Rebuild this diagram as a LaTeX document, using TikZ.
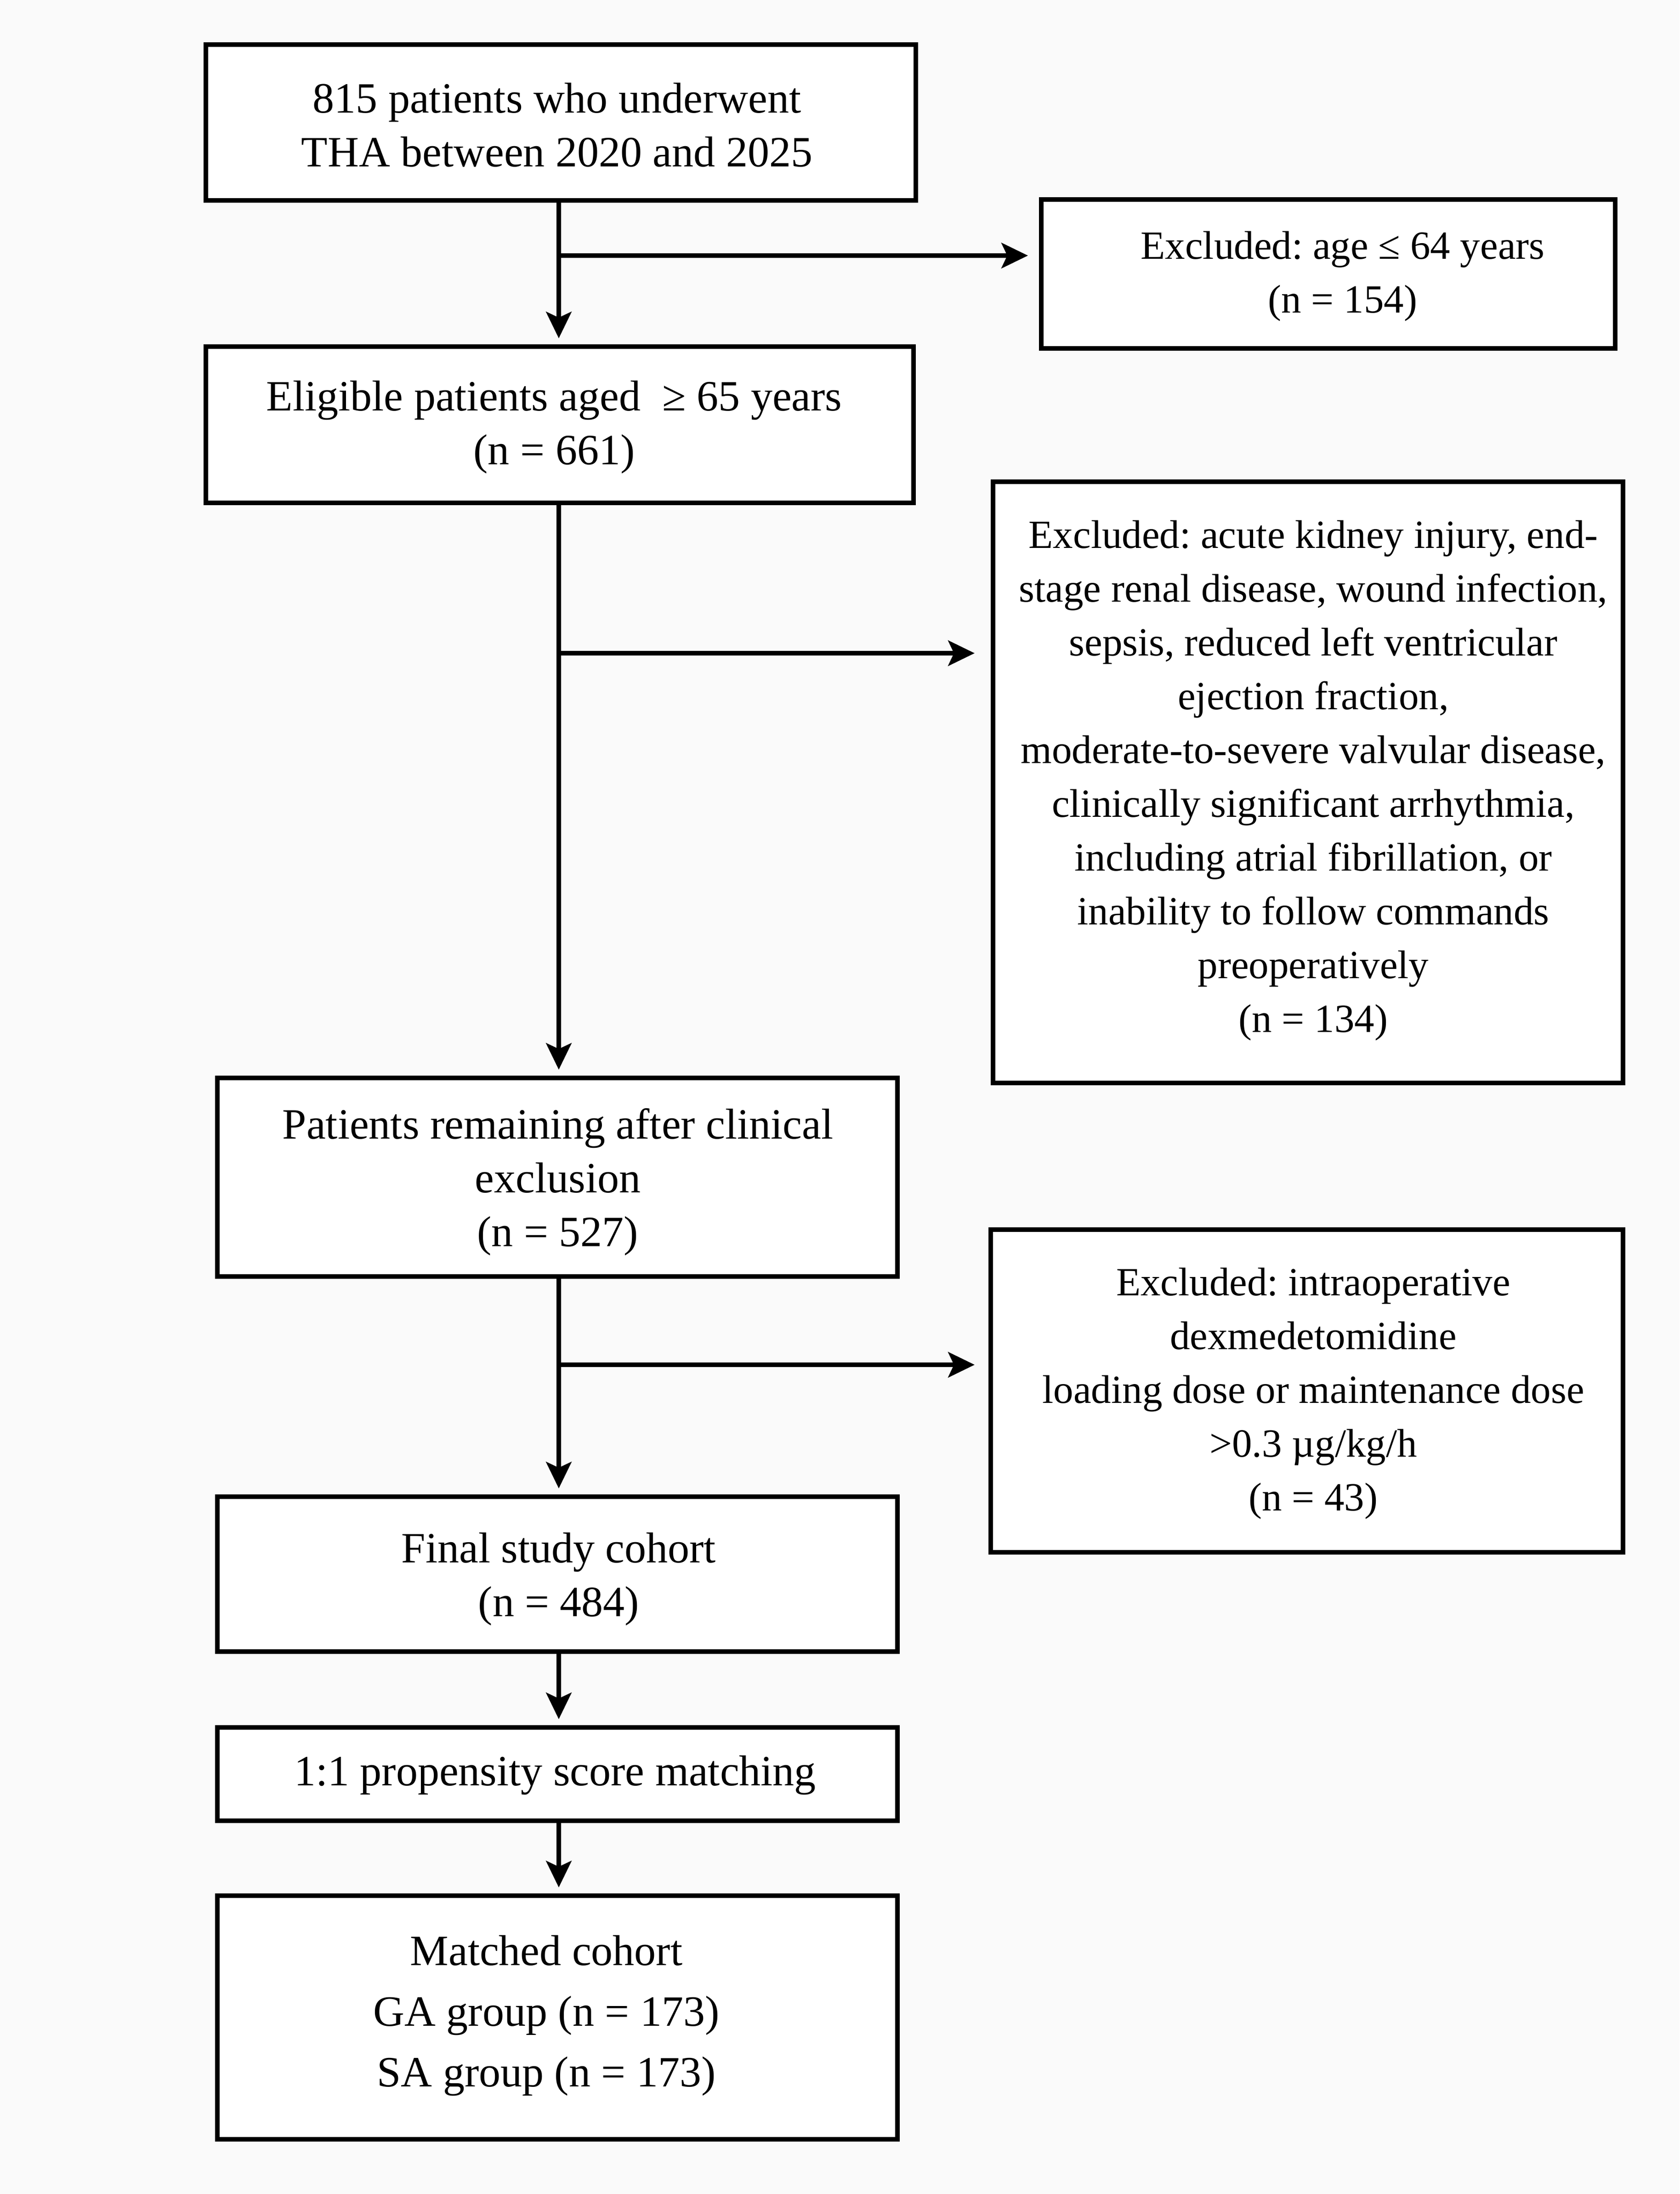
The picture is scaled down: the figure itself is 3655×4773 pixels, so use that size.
\documentclass[tikz,border=0pt]{standalone}
\usepackage{fontspec}
\setmainfont{Liberation Serif}
\frenchspacing
\usetikzlibrary{arrows.meta,calc}
\definecolor{bgcol}{RGB}{250,250,250}
\tikzset{
  boxshape/.style={draw=black, line width=2pt, fill=white, inner sep=0pt, rectangle},
  maintext/.style={inner sep=0pt, align=center, font={\fontsize{18.8pt}{23.4pt}\selectfont}},
  exctext/.style={inner sep=0pt, align=center, font={\fontsize{17.4pt}{23.4pt}\selectfont}},
  flowline/.style={line width=2pt, -{Stealth[length=11.5pt,width=11pt,inset=2.5pt]}},
}
\begin{document}
\begin{tikzpicture}[x=0.2pt,y=-0.2pt]
\path[fill=bgcol, use as bounding box] (0,0) rectangle (3655,4773);

% main boxes
\node[boxshape, minimum width=309pt, minimum height=67.8pt] (b1) at (1220.5,266.5) {};
\node[boxshape, minimum width=308pt, minimum height=68pt] (b2) at (1218,924) {};
\node[boxshape, minimum width=296pt, minimum height=86.4pt] (b3) at (1213,2561) {};
\node[boxshape, minimum width=296pt, minimum height=67.4pt] (b4) at (1213,3424.5) {};
\node[boxshape, minimum width=296pt, minimum height=40.6pt] (b5) at (1213,3859.5) {};
\node[boxshape, minimum width=296pt, minimum height=106pt] (b6) at (1213,4389) {};

% exclusion boxes
\node[boxshape, minimum width=249.8pt, minimum height=64.8pt] (e1) at (2890.5,596) {};
\node[boxshape, minimum width=274.2pt, minimum height=261.6pt] (e2) at (2846.5,1702) {};
\node[boxshape, minimum width=275.2pt, minimum height=140.4pt] (e3) at (2844,3026) {};

% texts
\node[maintext] (t1) at (1212,271.5) {815 patients who underwent\\THA between 2020 and 2025};
\node[maintext] (t2) at (1206,929.5) {Eligible patients aged~ ≥ 65 years\\(n = 661)};
\node[maintext] (t3) at (1214,2571) {Patients remaining after clinical\\exclusion\\(n = 527)};
\node[maintext] (t4) at (1216,3435) {Final study cohort\\(n = 484)};
\node[maintext] (t5) at (1208,3862) {1:1 propensity score matching};
\node[maintext, font={\fontsize{18.8pt}{26.4pt}\selectfont}] (t6) at (1189,4385) {Matched cohort\\GA group (n = 173)\\SA group (n = 173)};

\node[exctext] (x1) at (2922,601.5) {Excluded: age ≤ 64 years\\(n = 154)};
\node[exctext] (x2) at (2858,1698.5) {Excluded: acute kidney injury, end-\\stage renal disease, wound infection,\\sepsis, reduced left ventricular\\ejection fraction,\\moderate-to-severe valvular disease,\\clinically significant arrhythmia,\\including atrial fibrillation, or\\inability to follow commands\\preoperatively\\(n = 134)};
\node[exctext] (x3) at (2858,3032) {Excluded: intraoperative\\dexmedetomidine\\loading dose or maintenance dose\\>0.3 µg/kg/h\\(n = 43)};

% spine and junctions
\coordinate (spine) at (1216,0);
\coordinate (j1) at (1216,556);
\coordinate (j2) at (1216,1421);
\coordinate (j3) at (1216,2969);

% vertical arrows
\draw[flowline, shorten >=2.6pt] (b1.south -| spine) -- (b2.north -| spine);
\draw[flowline, shorten >=2.6pt] (b2.south -| spine) -- (b3.north -| spine);
\draw[flowline, shorten >=2.6pt] (b3.south -| spine) -- (b4.north -| spine);
\draw[flowline, shorten >=2.6pt] (b4.south -| spine) -- (b5.north -| spine);
\draw[flowline, shorten >=2.6pt] (b5.south -| spine) -- (b6.north -| spine);

% branch arrows
\draw[flowline, shorten >=4.8pt] (j1) -- (j1 -| e1.west);
\draw[flowline, shorten >=7pt] (j2) -- (j2 -| e2.west);
\draw[flowline, shorten >=6pt] (j3) -- (j3 -| e3.west);
\end{tikzpicture}
\end{document}
